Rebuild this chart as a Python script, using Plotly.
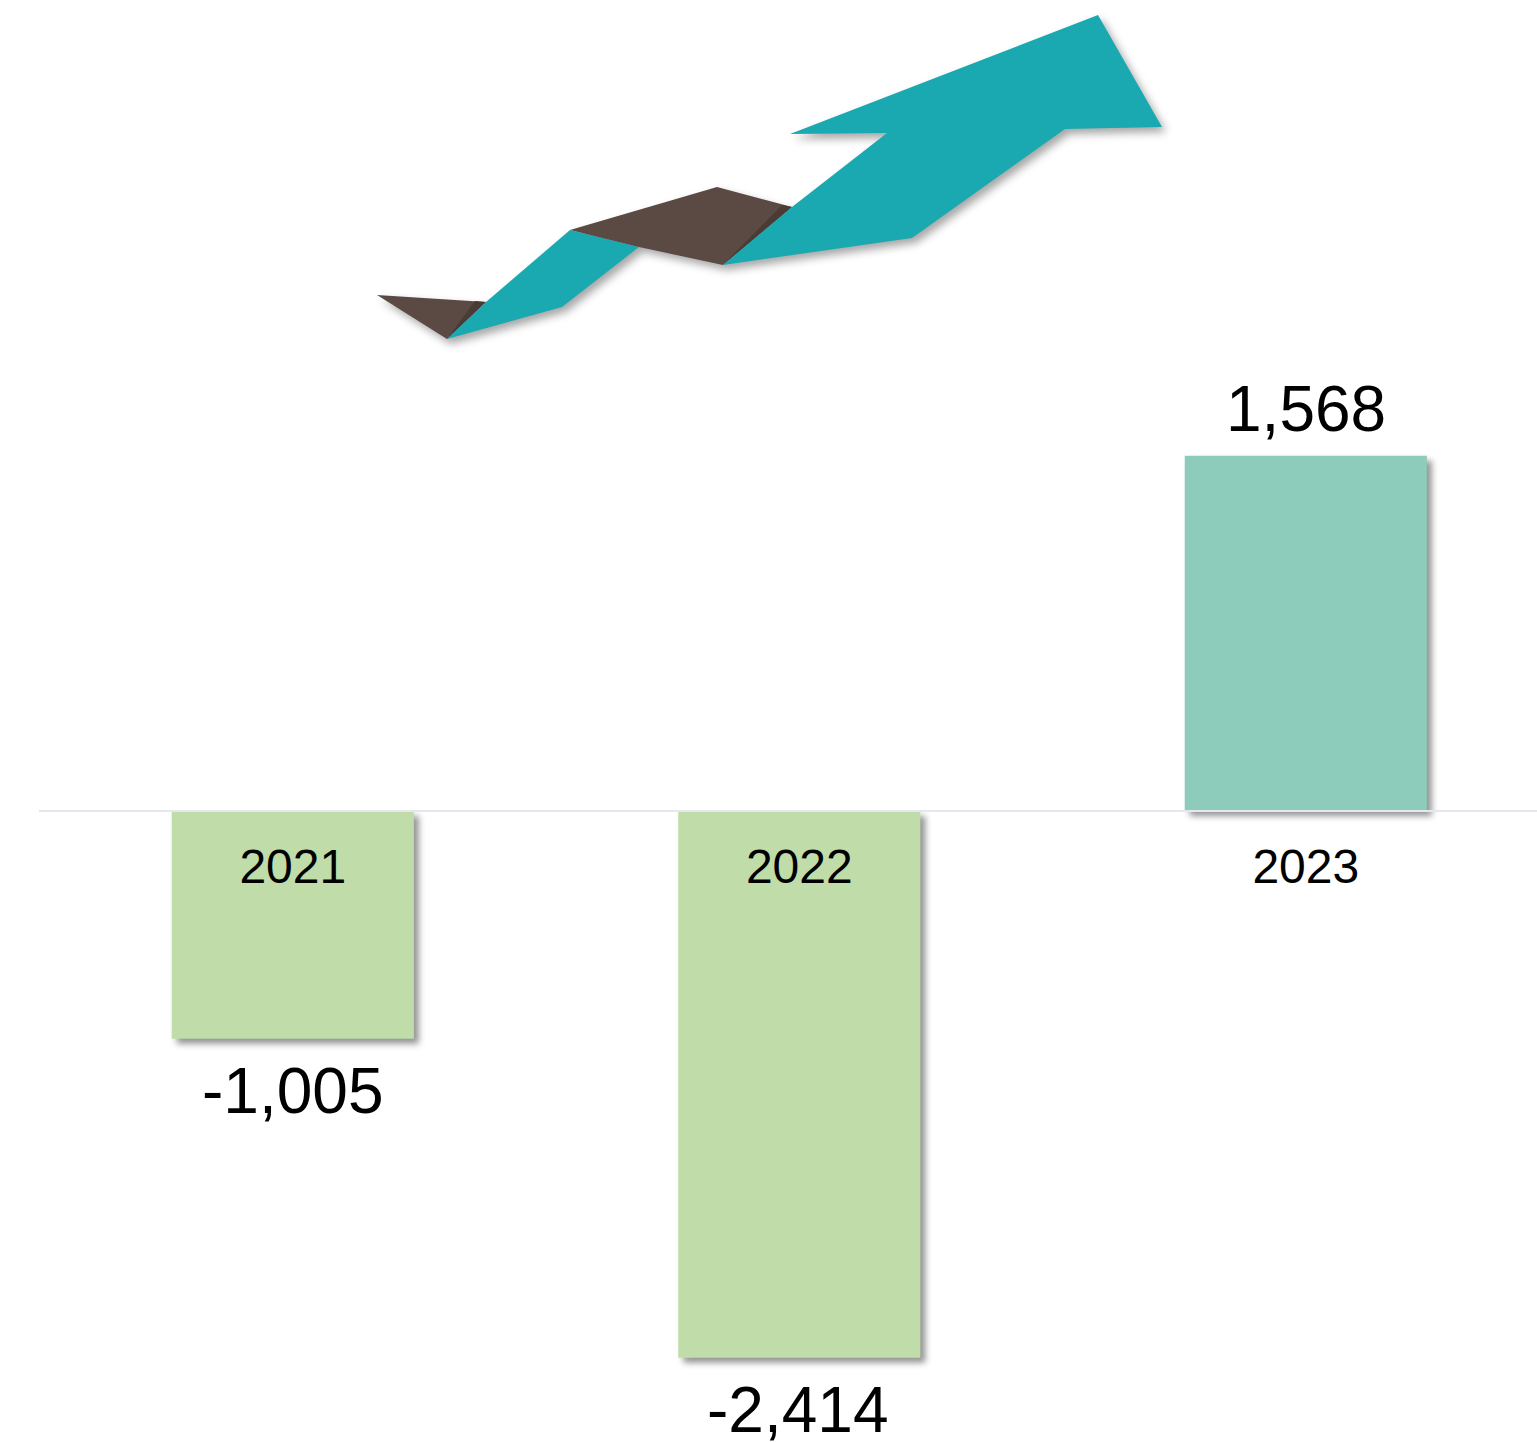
import plotly.graph_objects as go

# Yearly results
years = ["2021", "2022", "2023"]
values = [-1005, -2414, 1568]
bar_colors = ["#BFDCA9", "#BFDCA9", "#8DCCBA"]
value_labels = [f"{v:,}" for v in values]
# Distance of each value label from the end of its bar
label_shifts = [-52, -52, 47]
label_nudges = [0, -2, 0]

# Decorative ribbon arrow, outlined on a page-sized overlay axis
ribbon_parts = [
    ("#5A4A43", [377, 486, 447], [295, 302, 339]),
    ("#4A3C35", [475, 486, 447], [301, 302, 339]),
    ("#1AA9B0", [447, 486, 570, 639, 562], [339, 302, 230, 247, 307]),
    ("#5A4A43", [570, 717, 792, 723, 639], [230, 187, 207, 265, 247]),
    ("#4A3C35", [782, 792, 723], [205, 207, 265]),
    ("#1AA9B0", [723, 792, 887, 790, 1098, 1162, 1065, 912],
     [265, 207, 133, 134, 15, 127, 129, 238]),
]

PAGE_W, PAGE_H = 1537, 1442
LEFT = 39
ZERO_PX = 811
PX_PER_UNIT = 0.2265
CATEGORY_PX = 506.5
FIRST_CENTER_PX = 292.8

fig = go.Figure()

fig.add_trace(go.Bar(
    x=years, y=values,
    marker=dict(color=bar_colors, line=dict(width=0)),
    cliponaxis=False,
    hoverinfo="x+y",
))

for color, xs, ys in ribbon_parts:
    fig.add_trace(go.Scatter(
        x=xs + xs[:1], y=ys + ys[:1],
        xaxis="x2", yaxis="y2",
        mode="lines", fill="toself",
        fillcolor=color,
        line=dict(width=0, color=color),
        hoverinfo="skip",
    ))

# Category axes take annotation positions as serial numbers
for index, (value, label, shift, nudge) in enumerate(
    zip(values, value_labels, label_shifts, label_nudges)
):
    fig.add_annotation(
        x=index, y=value, text=label,
        xref="x", yref="y",
        showarrow=False,
        yanchor="middle", yshift=shift, xshift=nudge,
        font=dict(size=64, color="#000000", family="Liberation Sans"),
    )

fig.update_layout(
    width=PAGE_W, height=PAGE_H,
    margin=dict(l=LEFT, r=0, t=0, b=0, pad=0),
    autosize=False,
    showlegend=False,
    paper_bgcolor="#FFFFFF",
    plot_bgcolor="#FFFFFF",
    bargap=0.522,
    font=dict(family="Liberation Sans", color="#000000"),
    xaxis=dict(
        type="category",
        categoryorder="array",
        categoryarray=years,
        range=[-(FIRST_CENTER_PX - LEFT) / CATEGORY_PX,
               (PAGE_W - FIRST_CENTER_PX) / CATEGORY_PX],
        anchor="free",
        position=1 - ZERO_PX / PAGE_H,
        showline=True, linecolor="#E4E7EE", linewidth=2,
        showgrid=False, zeroline=False,
        ticks="", ticklabelstandoff=13,
        tickfont=dict(size=48, color="#000000", family="Liberation Sans"),
        layer="above traces",
    ),
    yaxis=dict(
        range=[-(PAGE_H - ZERO_PX) / PX_PER_UNIT, ZERO_PX / PX_PER_UNIT],
        visible=False, showgrid=False, zeroline=False,
    ),
    xaxis2=dict(range=[LEFT, PAGE_W], overlaying="x", visible=False),
    yaxis2=dict(range=[PAGE_H, 0], overlaying="y", visible=False),
)

# Soft drop shadows under the bars and the ribbon
shadow_css = """
var s = document.createElement('style');
s.textContent = '.barlayer .point path{filter:drop-shadow(5px 5px 3px rgba(0,0,0,.42));}'
  + '.scatterlayer{filter:drop-shadow(4px 5px 4px rgba(0,0,0,.35));}';
document.head.appendChild(s);
"""

fig.write_html("out.html", post_script=shadow_css, config={"displayModeBar": False})
